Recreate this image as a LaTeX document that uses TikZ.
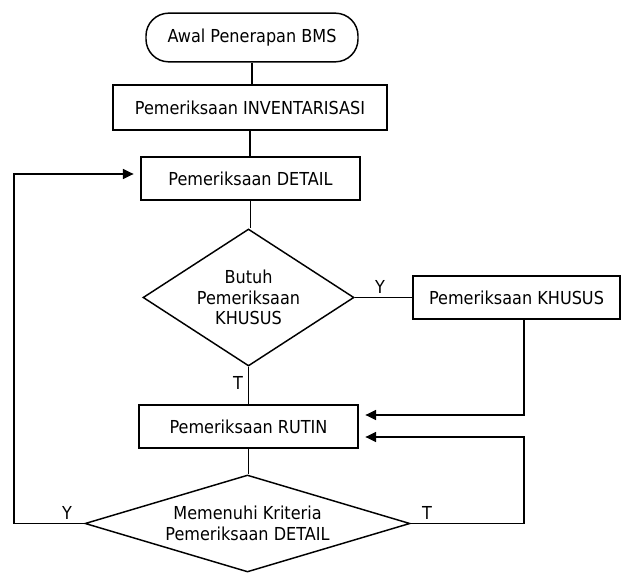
\documentclass[tikz,border=0pt]{standalone}
\usepackage{fontspec}
\setmainfont{DejaVu Sans}[FakeStretch=0.9]
\usetikzlibrary{shapes.geometric,arrows.meta,calc}
\begin{document}
\begin{tikzpicture}[x=0.75pt,y=-0.75pt,
  every node/.style={font=\fontsize{13.4}{15.5}\selectfont},
  link/.style={draw, line width=1.1pt},
  flow/.style={link, -{Triangle[length=8pt,width=7.5pt]}, shorten >=5pt},
  procbox/.style={draw, line width=1.1pt, rectangle, inner sep=0pt, align=center},
  terminal/.style={draw, line width=1.1pt, rectangle, rounded corners=17pt, inner sep=0pt},
  decision/.style={draw, line width=1.1pt, diamond, inner sep=0pt, align=center},
  lbl/.style={inner sep=0pt}]
\useasboundingbox (0,0) rectangle (622,574);

% main column
\node[terminal, minimum width=159pt, minimum height=36.5pt] (start) at (252,37.5) {Awal Penerapan BMS};
\node[procbox, minimum width=205.5pt, minimum height=33.75pt] (inv) at (250,107.5) {Pemeriksaan INVENTARISASI};
\node[procbox, minimum width=164.25pt, minimum height=32.25pt] (detail) at (250.5,178.5) {Pemeriksaan DETAIL};
\node[decision, minimum width=158.25pt, minimum height=102.75pt, aspect=1.54] (dec1) at (248.5,297.5) {Butuh\\Pemeriksaan\\KHUSUS};
\node[procbox, minimum width=155.25pt, minimum height=32.25pt] (khusus) at (516.5,297.5) {Pemeriksaan KHUSUS};
\node[procbox, minimum width=164.25pt, minimum height=32.25pt] (rutin) at (248.5,426.5) {Pemeriksaan RUTIN};
\node[decision, minimum width=243.75pt, minimum height=72.75pt, aspect=3.35] (dec2) at (247.5,523.5) {Memenuhi Kriteria\\Pemeriksaan DETAIL};

% x positions of the return lines
\coordinate (lx) at (14,0);
\coordinate (rx) at (524,0);

% straight connectors
\draw[link] (start.south) -- (start.south |- inv.north);
\draw[link] (inv.south) -- (inv.south |- detail.north);
\draw[link] (detail.south) -- (detail.south |- dec1.north);
\draw[link] (dec1.south) -- (dec1.south |- rutin.north);
\draw[link] (dec1.east) -- (dec1.east -| khusus.west);
\draw[link] (rutin.south) -- (rutin.south |- dec2.north);

% return loops
\draw[flow] (dec2.west) -- (dec2.west -| lx) |- ($(detail.west)+(0,-4.5)$);
\draw[flow] (rx |- khusus.south) |- ($(rutin.east)+(0,-11.5)$);
\draw[flow] (dec2.east) -- (dec2.east -| rx) |- ($(rutin.east)+(0,10.5)$);

% branch labels
\node[lbl] (y1) at (380,287) {Y};
\node[lbl] (t1) at (238,383) {T};
\node[lbl] (y2) at (67,513) {Y};
\node[lbl] (t2) at (427,513) {T};
\end{tikzpicture}
\end{document}
